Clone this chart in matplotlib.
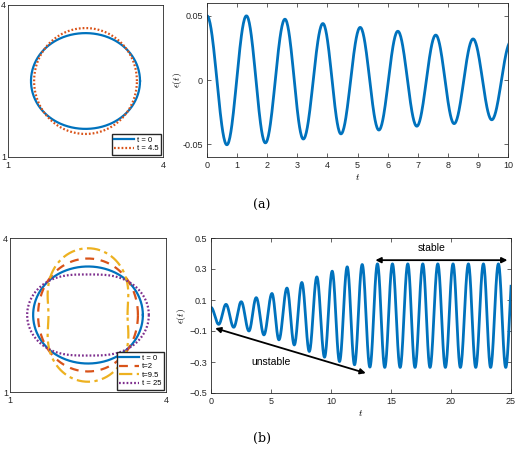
import numpy as np
import matplotlib
matplotlib.use('Agg')
import matplotlib.pyplot as plt

plt.rcParams['font.family'] = ['Liberation Sans', 'DejaVu Sans']
plt.rcParams['mathtext.fontset'] = 'cm'

# --- data ---
# (a) shapes: mean radius and mode-2 amplitude of each contour
shape_a_labels = ['t = 0', 't = 4.5']
shape_a_r0 = [1.0, 1.02]
shape_a_amp = [0.055, -0.025]

# (a) epsilon(t): extrema times and values
ta_ext = [0, 0.66, 1.31, 1.94, 2.59, 3.2, 3.85, 4.45, 5.09, 5.71, 6.34, 6.97,
          7.6, 8.21, 8.84, 9.46, 10.1]
ea_ext = [0.05, -0.0505, 0.05, -0.049, 0.0474, -0.046, 0.044, -0.042, 0.041,
          -0.039, 0.038, -0.036, 0.035, -0.034, 0.032, -0.031, 0.03]

# (b) shapes
shape_b_labels = ['t = 0', 't=2', 't=9.5', 't = 25']
shape_b_r0 = [1.0, 1.03, 1.03, 0.98]
shape_b_amp = [0.055, -0.07, -0.27, 0.19]

# (b) epsilon(t): extrema
tb_ext = [0, 0.64, 1.25, 1.89, 2.52, 3.16, 3.77, 4.41, 5.08, 5.66, 6.33, 6.94,
          7.57, 8.19, 8.82, 9.46, 10.1, 10.71, 11.35, 11.96, 12.6, 13.24, 13.87,
          14.48, 15.12, 15.76, 16.4, 17.0, 17.65, 18.25, 18.9, 19.53, 20.17,
          20.78, 21.45, 22.06, 22.7, 23.3, 23.95, 24.56, 25.2]
eb_ext = [0.052, -0.057, 0.072, -0.076, 0.089, -0.1, 0.115, -0.125, 0.142,
          -0.157, 0.177, -0.19, 0.213, -0.232, 0.249, -0.269, 0.286, -0.297,
          0.314, -0.318, 0.329, -0.333, 0.333, -0.335, 0.333, -0.335, 0.333,
          -0.335, 0.333, -0.335, 0.333, -0.335, 0.333, -0.335, 0.333, -0.335,
          0.333, -0.335, 0.333, -0.335, 0.333]

blue = '#0072BD'
red = '#D95319'
yellow = '#EDB120'
purple = '#7E2F8E'
dark = '#262626'

W, H = 516, 449
fig = plt.figure(figsize=(W / 100, H / 100), dpi=100)


def px_axes(l, t, r, b):
    return fig.add_axes([l / W, 1 - b / H, (r - l) / W, (b - t) / H])


def wave(tx, vals, n=40):
    xs, ys = [], []
    for i in range(len(tx) - 1):
        s = np.linspace(0, 1, n)
        xs.append(tx[i] + (tx[i + 1] - tx[i]) * s)
        ys.append(vals[i] + (vals[i + 1] - vals[i]) * (1 - np.cos(np.pi * s)) / 2)
    return np.concatenate(xs), np.concatenate(ys)


def contour(r0, amp):
    th = np.linspace(0, 2 * np.pi, 400)
    r = r0 + amp * np.cos(2 * th)
    return 2.5 + r * np.cos(th), 2.5 + r * np.sin(th)


def style(ax):
    for s in ax.spines.values():
        s.set_color(dark)
        s.set_linewidth(0.6)
    ax.tick_params(direction='in', length=3, width=0.5, colors=dark,
                   labelsize=6.5, top=True, right=True, pad=3)


def shape_ax(ax):
    style(ax)
    ax.set_xlim(1, 4)
    ax.set_ylim(1, 4)
    ax.set_xticks([1, 4])
    ax.set_yticks([1, 4])
    ax.tick_params(length=0)
    ax.tick_params(axis='y', pad=1.5)


# (a) left
ax1 = px_axes(8, 5, 163, 157)
x, y = contour(shape_a_r0[0], shape_a_amp[0])
ax1.plot(x, y, color=blue, lw=1.6, label=shape_a_labels[0])
x, y = contour(shape_a_r0[1], shape_a_amp[1])
ax1.plot(x, y, color=red, lw=1.6, ls=(0, (0.8, 0.9)), label=shape_a_labels[1])
shape_ax(ax1)
ax1.legend(loc='lower right', fontsize=5.5, frameon=True, fancybox=False,
           edgecolor=dark, handlelength=2.6, borderpad=0.3, labelspacing=0.2,
           handletextpad=0.4, borderaxespad=0.3, framealpha=1)

# (a) right
ax2 = px_axes(207, 3, 508, 157)
x, y = wave(ta_ext, ea_ext)
ax2.plot(x, y, color=blue, lw=2.0)
style(ax2)
ax2.set_xlim(0, 10)
ax2.set_ylim(-0.06, 0.06)
ax2.set_xticks(range(0, 11))
ax2.set_yticks([-0.05, 0, 0.05])
ax2.set_yticklabels(['-0.05', '0', '0.05'])
ax2.set_xlabel('$t$', fontsize=7, labelpad=1)
ax2.set_ylabel(r'$\epsilon(t)$', fontsize=7, labelpad=-1)

fig.text(262 / W, 1 - 205 / H, '(a)', ha='center', va='center',
         family='DejaVu Serif', fontsize=9)

# (b) left
ax3 = px_axes(10, 238, 166, 392)
styles = [dict(color=blue, ls='-'), dict(color=red, ls=(0, (4, 3))),
          dict(color=yellow, ls=(0, (6, 2, 1.5, 2))),
          dict(color=purple, ls=(0, (0.8, 0.9)))]
for lab, r0, amp, st in zip(shape_b_labels, shape_b_r0, shape_b_amp, styles):
    x, y = contour(r0, amp)
    ax3.plot(x, y, lw=1.6, label=lab, **st)
shape_ax(ax3)
ax3.legend(loc='lower right', fontsize=5.5, frameon=True, fancybox=False,
           edgecolor=dark, handlelength=2.6, borderpad=0.3, labelspacing=0.15,
           handletextpad=0.4, borderaxespad=0.3, framealpha=1)

# (b) right
ax4 = px_axes(211, 238, 511, 393)
x, y = wave(tb_ext, eb_ext)
ax4.plot(x, y, color=blue, lw=2.0)
style(ax4)
ax4.set_xlim(0, 25)
ax4.set_ylim(-0.5, 0.5)
ax4.set_xticks(range(0, 26, 5))
ax4.set_yticks([-0.5, -0.3, -0.1, 0.1, 0.3, 0.5])
ax4.set_xlabel('$t$', fontsize=7, labelpad=1)
ax4.set_ylabel(r'$\epsilon(t)$', fontsize=7, labelpad=1)
ax4.annotate('', xy=(24.7, 0.357), xytext=(13.7, 0.357),
             arrowprops=dict(arrowstyle='<|-|>', color='k', lw=1.3,
                             mutation_scale=8, shrinkA=0, shrinkB=0))
ax4.text(18.4, 0.435, 'stable', ha='center', va='center', fontsize=7.5)
ax4.annotate('', xy=(12.9, -0.372), xytext=(0.35, -0.082),
             arrowprops=dict(arrowstyle='<|-|>', color='k', lw=1.3,
                             mutation_scale=8, shrinkA=0, shrinkB=0))
ax4.text(5.0, -0.3, 'unstable', ha='center', va='center', fontsize=7.5)

fig.text(262 / W, 1 - 438 / H, '(b)', ha='center', va='center',
         family='DejaVu Serif', fontsize=9)

fig.savefig('out.png', dpi=100)
